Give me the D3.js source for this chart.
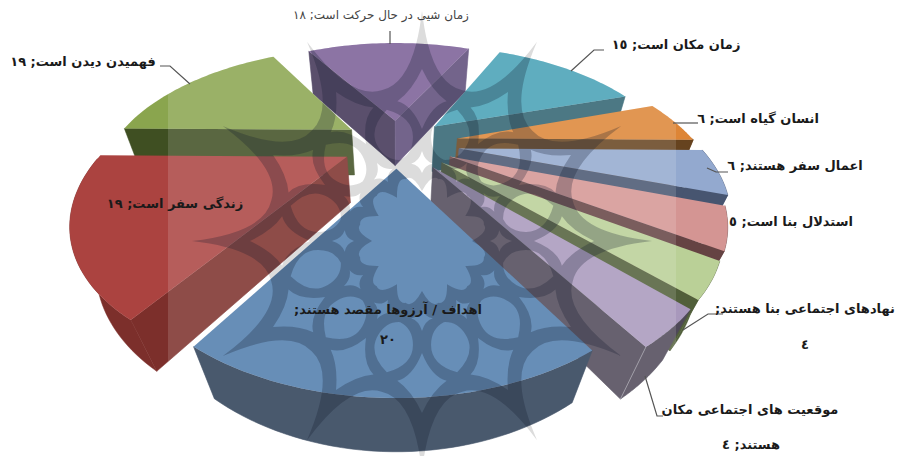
<!DOCTYPE html>
<html>
<head>
<meta charset="utf-8">
<script src="https://cdn.jsdelivr.net/npm/d3@7"></script>
<style>
    html, body { margin: 0; padding: 0; background: #fff; }
    svg { display: block; }
    .label { font-family: "DejaVu Sans", sans-serif; font-size: 13px; font-weight: bold; fill: #1a1a1a; direction: rtl; text-anchor: middle; }
    .leader { fill: none; stroke: #555; stroke-width: 1.2; }
</style>
</head>
<body>
<svg id="chart" width="898" height="456"></svg>
<script>
// clockwise from the first slice
const categories = [
    'زمان مکان است', 'انسان گیاه است', 'اعمال سفر هستند', 'استدلال بنا است',
    'نهادهای اجتماعی بنا هستند', 'موقعیت های اجتماعی مکان هستند',
    'اهداف / آرزوها مقصد هستند', 'زندگی سفر است', 'فهمیدن دیدن است', 'زمان شیی در حال حرکت است'
];
const values = [15, 6, 6, 5, 4, 4, 20, 19, 19, 18];
const explode = [0.22, 0.26, 0.26, 0.24, 0.235, 0.235, 0.2, 0.23, 0.23, 0.2];
const topColors = ['#45a0b5', '#dd8536', '#93a9cf', '#d49593', '#bad097', '#a898bc', '#4f7cac', '#ab4340', '#8aa54e', '#7a5e96'];
const wallColors = ['#2f6270', '#66431f', '#475570', '#654343', '#515f3a', '#4e4858', '#2c3e56', '#7c2f2b', '#3f4f22', '#3f3354'];
const sideColors = ['#2f6270', '#66431f', '#475570', '#654343', '#515f3a', '#4e4858', '#2c3e56', '#7c2f2b', '#3f4f22', '#5d4b78'];

const labelLines = [
    [['زمان مکان است; ١٥', 676, 49]],
    [['انسان گیاه است; ٦', 758, 123]],
    [['اعمال سفر هستند; ٦', 795, 170]],
    [['استدلال بنا است; ٥', 791, 226]],
    [['نهادهای اجتماعی بنا هستند;', 805, 313], ['٤', 805, 349]],
    [['موقعیت های اجتماعی مکان', 750, 414], ['هستند; ٤', 751, 449]],
    [['اهداف / آرزوها مقصد هستند;', 388, 314], ['٢٠', 388, 344]],
    [['زندگی سفر است; ١٩', 175, 208]],
    [['فهمیدن دیدن است; ١٩', 83, 66]],
    [['زمان شیی در حال حرکت است; ١٨', 381, 19]]
];
const leaders = [
    [[604, 50], [594, 50], [571, 71]],
    [[698, 123], [673, 123]],
    [[728, 172], [716, 172], [707, 168]],
    [],
    [[723, 314], [708, 314], [683, 330]],
    [[663, 416], [657, 416], [645, 376]],
    [],
    [],
    [[160, 66], [170, 66], [190, 84]],
    [[390, 31], [390, 44]]
];

const width = 898, height = 456;
const cx = 397, cy = 143;
const scaleX = 238, scaleY = 119.7, persp = 0.364;
const firstAngle = 25.5 * Math.PI / 180;
const svg = d3.select('#chart');

// flat pie plane -> screen, with the near side pulled bigger
function project(X, Y) {
    const s = 1 / (1 - persp * Y);
    return [cx + scaleX * X * s, cy + scaleY * Y * s];
}

// where a point of the top face lands on the bottom face
function drop(p) {
    const t = 0.04 + 0.00018 * p[1];
    return [p[0] + (cx - p[0]) * t, p[1] + 41 + 0.032 * p[1]];
}

const line = d3.line();
const slices = d3.pie().sort(null).value(d => d)
    .startAngle(firstAngle).endAngle(firstAngle + 2 * Math.PI)(values);

const pieData = slices.map((d, i) => {
    const mid = (d.startAngle + d.endAngle) / 2;
    const ox = explode[i] * Math.sin(mid), oy = -explode[i] * Math.cos(mid);
    const at = a => project(ox + Math.sin(a), oy - Math.cos(a));
    const arcPts = d3.range(0, 41).map(k => at(d.startAngle + (d.endAngle - d.startAngle) * k / 40));
    const apex = project(ox, oy);
    const top = line([apex, ...arcPts]) + 'Z';
    const walls = [];
    const wallOf = pts => line([...pts, ...pts.slice().reverse().map(drop)]) + 'Z';

    // only the walls that look towards the viewer
    if (-Math.sin(d.startAngle) > 0)
        walls.push({ path: wallOf([apex, arcPts[0]]), fill: wallColors[i] });
    if (Math.sin(d.endAngle) > 0)
        walls.push({ path: wallOf([apex, arcPts[40]]), fill: sideColors[i] });

    const front = d3.range(0, 41)
        .map(k => d.startAngle + (d.endAngle - d.startAngle) * k / 40)
        .filter(a => Math.cos(a) < 0)
        .map(at);
    if (front.length > 1)
        walls.push({ path: wallOf(front), fill: wallColors[i] });

    return { i, depth: oy - Math.cos(mid), top, walls, corner: arcPts[40] };
}).sort((a, b) => d3.ascending(a.depth, b.depth));

// university emblem behind and over the pie
function polar(r, deg) {
    const a = deg * Math.PI / 180;
    return [422 + r * Math.sin(a), 241 - r * Math.cos(a)];
}
function emblemPath() {
    const p = d3.path();
    const q = (c, e) => p.quadraticCurveTo(c[0], c[1], e[0], e[1]);
    let start = polar(230, 0);
    p.moveTo(start[0], start[1]);
    for (let k = 0; k < 12; k++) {
        const th = k * 30;
        q(polar(158, th + 3), polar(156, th + 15));
        q(polar(158, th + 27), polar(230, th + 30));
    }
    p.closePath();

    for (let k = 0; k < 12; k++) {
        const th = k * 30;

        // large curved diamonds
        let a = polar(172, th), b = polar(142, th + 10), c = polar(112, th), e = polar(142, th - 10);
        p.moveTo(a[0], a[1]);
        q(polar(150, th + 4), b); q(polar(136, th + 4), c); q(polar(136, th - 4), e); q(polar(150, th - 4), a);
        p.closePath();

        // small diamonds
        a = polar(90, th); b = polar(78, th + 8); c = polar(68, th); e = polar(78, th - 8);
        p.moveTo(a[0], a[1]);
        q(polar(80, th + 2), b); q(polar(76, th + 2), c); q(polar(76, th - 2), e); q(polar(80, th - 2), a);
        p.closePath();

        // lobes
        a = polar(136, th + 15); c = polar(84, th + 15);
        p.moveTo(a[0], a[1]);
        q(polar(124, th + 26), polar(104, th + 25));
        q(polar(88, th + 24), c);
        q(polar(88, th + 6), polar(104, th + 5));
        q(polar(124, th + 4), a);
        p.closePath();
    }

    // centre flower
    start = polar(50, 0);
    p.moveTo(start[0], start[1]);
    for (let k = 0; k < 12; k++) {
        const th = k * 30;
        q(polar(68, th + 8), polar(64, th + 15));
        q(polar(68, th + 22), polar(50, th + 30));
    }
    p.closePath();
    return p.toString();
}
const emblem = emblemPath();

svg.append('path')
    .attr('d', emblem)
    .attr('fill', '#dcdcdc')
    .attr('fill-rule', 'evenodd');

const clip = svg.append('clipPath').attr('id', 'pie-clip');
const pieG = svg.append('g');

pieData.forEach(s => {
    const g = pieG.append('g');
    s.walls.forEach(w => {
        g.append('path').attr('d', w.path).attr('fill', w.fill).attr('stroke', w.fill).attr('stroke-width', 0.5);
        clip.append('path').attr('d', w.path);
    });
    // the lavender slice shows a pale seam on its outer corner
    if (s.i === 5)
        g.append('path').attr('d', line([s.corner, drop(s.corner)])).attr('stroke', '#a9a6b0').attr('stroke-width', 0.7);
    g.append('path').attr('d', s.top).attr('fill', topColors[s.i]);
    clip.append('path').attr('d', s.top);
});

const overlay = svg.append('g').attr('clip-path', 'url(#pie-clip)');
overlay.append('rect')
    .attr('x', 168).attr('y', 0)
    .attr('width', 508).attr('height', height)
    .attr('fill', '#fff').attr('opacity', 0.14);
overlay.append('path')
    .attr('d', emblem)
    .attr('fill', '#10182a')
    .attr('fill-rule', 'evenodd')
    .attr('opacity', 0.26);

svg.selectAll('.leader')
    .data(leaders.filter(d => d.length))
    .join('path')
    .attr('class', 'leader')
    .attr('d', d => line(d));

labelLines.forEach((lines, i) => {
    lines.forEach(d => {
        svg.append('text')
            .attr('class', 'label')
            .attr('x', d[1])
            .attr('y', d[2])
            .attr('style', i === 9 ? 'font-size:12px;font-weight:normal;fill:#444' : null)
            .text(d[0]);
    });
});
</script>
</body>
</html>
